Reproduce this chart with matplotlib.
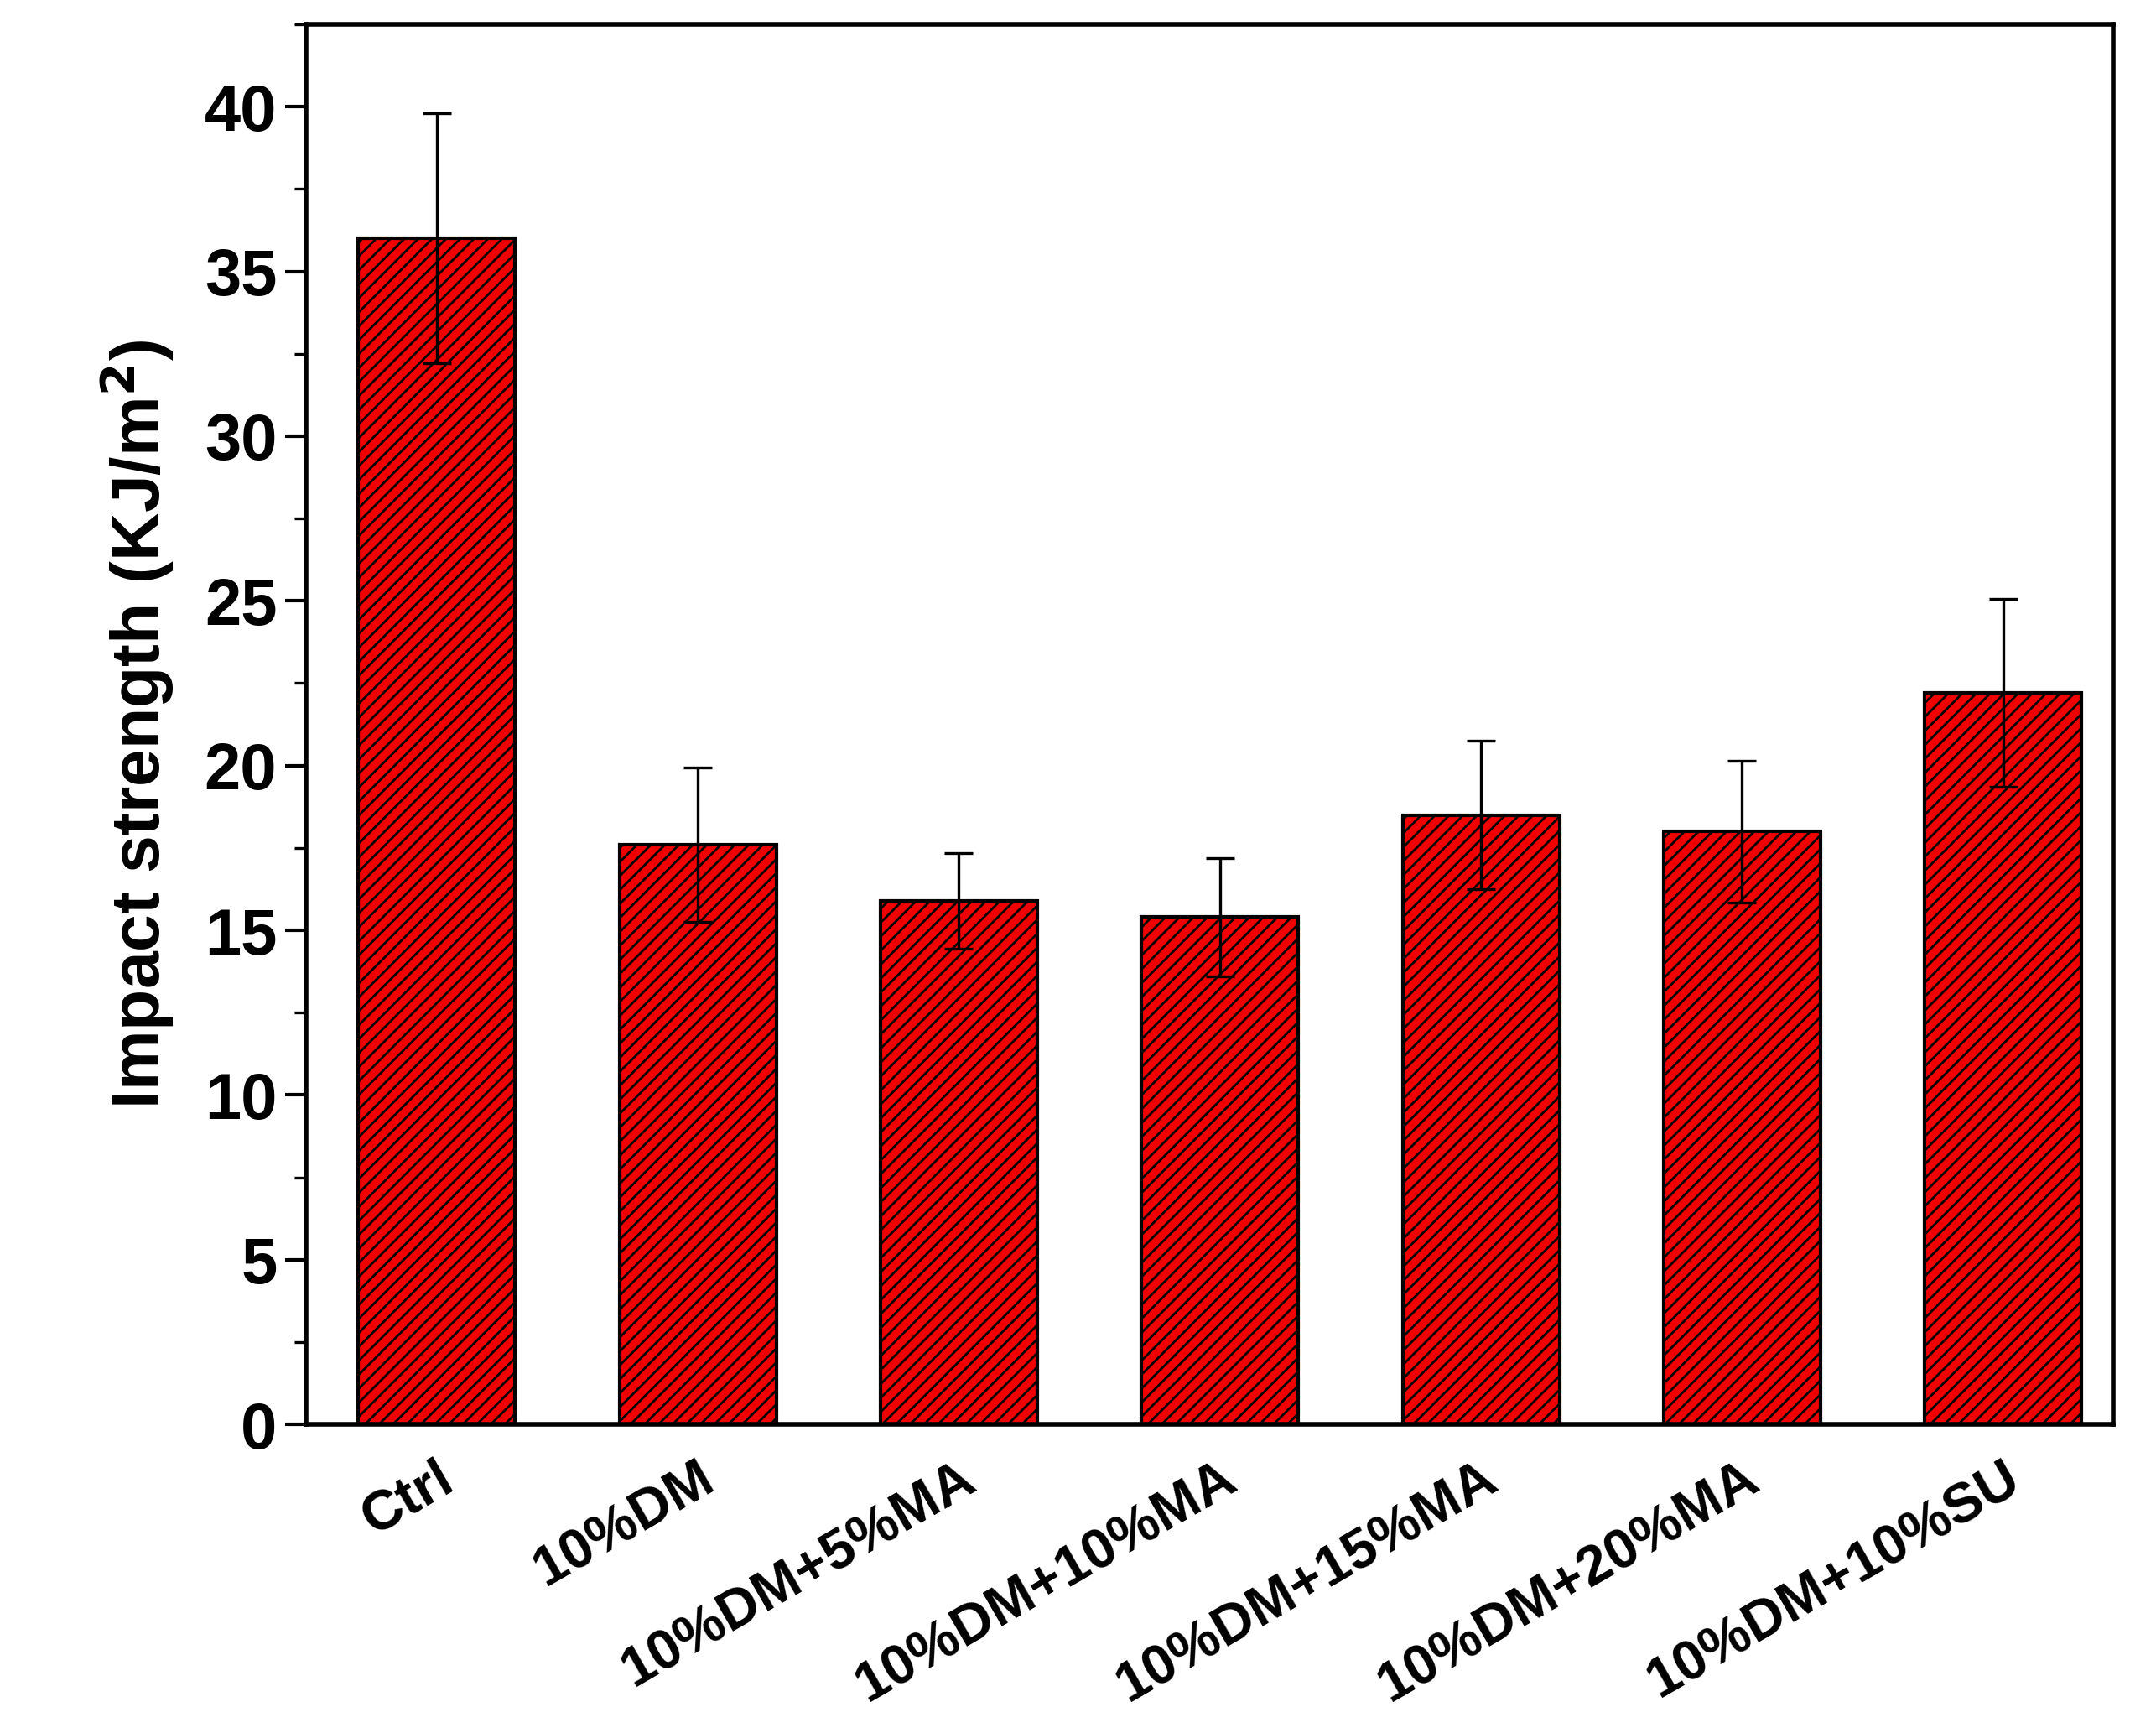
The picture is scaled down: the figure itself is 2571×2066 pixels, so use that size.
import matplotlib
matplotlib.use("Agg")
import matplotlib.pyplot as plt
from matplotlib.ticker import MultipleLocator

# Data
categories = ["Ctrl", "10%DM", "10%DM+5%MA", "10%DM+10%MA",
              "10%DM+15%MA", "10%DM+20%MA", "10%DM+10%SU"]
means = [36.0, 17.6, 15.9, 15.4, 18.5, 18.0, 22.2]
errors = [3.8, 2.35, 1.45, 1.8, 2.25, 2.15, 2.85]

plt.rcParams['font.family'] = ['Arial', 'Liberation Sans', 'DejaVu Sans']
plt.rcParams['hatch.linewidth'] = 1.0

fig = plt.figure(figsize=(12.855, 10.33), dpi=200)
ax = fig.add_axes([0.142, 0.178, 0.838, 0.808])

x = range(len(categories))
ax.bar(x, means, width=0.6, color="#f00000", edgecolor="black",
       linewidth=1.5, hatch="////", zorder=2)
ax.errorbar(x, means, yerr=errors, fmt="none", ecolor="black",
            elinewidth=1.2, capsize=6, capthick=1.2, zorder=3)

ax.set_xlim(-0.5, 6.42)
ax.set_ylim(0, 42.5)
ax.yaxis.set_major_locator(MultipleLocator(5))
ax.yaxis.set_minor_locator(MultipleLocator(2.5))
ax.set_xticks(list(x))
ax.set_xticklabels(categories, rotation=30, ha="right", rotation_mode="anchor",
                   fontsize=24, fontweight="bold")
for lab in ax.get_yticklabels():
    lab.set_fontsize(28)
    lab.set_fontweight("bold")
ax.tick_params(axis="y", which="major", length=9, width=1.5)
ax.tick_params(axis="y", which="minor", length=5, width=1.2)
ax.tick_params(axis="x", length=0, pad=12)
for s in ax.spines.values():
    s.set_linewidth(2)

ax.set_ylabel("Impact strength (KJ/m$^\\mathbf{2}$)", fontsize=29,
              fontweight="bold", labelpad=12)

fig.savefig("out.png", dpi=200)
